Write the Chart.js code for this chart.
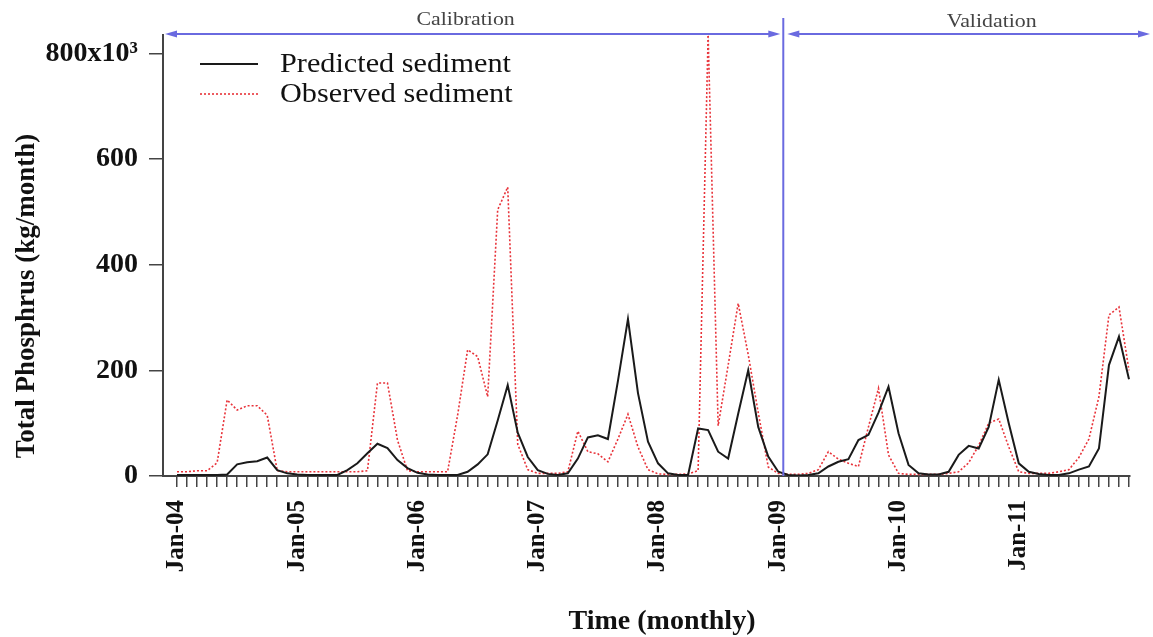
<!DOCTYPE html>
<html>
<head>
<meta charset="utf-8">
<script src="https://cdn.jsdelivr.net/npm/chart.js@4.4.0/dist/chart.umd.min.js"></script>
<style>
  html, body { margin: 0; padding: 0; background: #fff; }
  #wrap { width: 1153px; height: 637px; }
</style>
</head>
<body>
<div id="wrap"><canvas id="tp-chart"></canvas></div>
<script>
// monthly series, Jan-04 .. Dec-11 (x10^3 kg/month)
var years = ['04', '05', '06', '07', '08', '09', '10', '11'];
var monthNames = ['Jan', 'Feb', 'Mar', 'Apr', 'May', 'Jun', 'Jul', 'Aug', 'Sep', 'Oct', 'Nov', 'Dec'];
var tickLabels = ['Jan-04', 'Jan-05', 'Jan-06', 'Jan-07', 'Jan-08', 'Jan-09', 'Jan-10', 'Jan-11'];
var yTicks = [0, 200, 400, 600, 800];

var predicted = [
  2, 2, 2, 2, 2, 3, 22, 26, 28, 35,
  11, 5, 3, 2, 2, 2, 2, 11, 24, 43,
  61, 53, 30, 15, 6, 3, 2, 2, 2, 8,
  22, 41, 105, 172, 82, 36, 11, 4, 2, 5,
  33, 73, 77, 70, 180, 297, 157, 65, 24, 5,
  2, 2, 90, 87, 46, 33, 118, 200, 93, 37,
  8, 2, 1, 2, 5, 18, 27, 32, 68, 78,
  120, 169, 81, 21, 5, 3, 3, 8, 40, 57,
  52, 93, 182, 100, 24, 8, 4, 2, 2, 5,
  12, 18, 52, 210, 264, 183
];
var observed = [
  8, 8, 10, 10, 25, 144, 125, 133, 133, 115,
  10, 8, 8, 8, 8, 8, 8, 8, 8, 10,
  176, 176, 68, 10, 8, 8, 8, 8, 115, 239,
  226, 150, 504, 547, 60, 12, 5, 5, 5, 8,
  85, 46, 42, 27, 70, 117, 55, 12, 4, 3,
  3, 4, 10, 835, 95, 210, 327, 230, 120, 17,
  5, 3, 3, 5, 12, 46, 32, 24, 18, 93,
  166, 40, 5, 3, 3, 3, 3, 5, 8, 25,
  58, 100, 108, 55, 8, 5, 5, 5, 8, 12,
  35, 70, 150, 305, 320, 200
];

var months = [];
years.forEach(function (y) {
  monthNames.forEach(function (m) { months.push(m + '-' + y); });
});

var splitMonth = 60.5;   // calibration / validation boundary
var blue = '#6a6ae0';
var serif = "'Liberation Serif', 'Times New Roman', serif";

function toPoints(arr) {
  return arr.map(function (v, i) { return { x: i, y: v }; });
}

function arrow(ctx, x1, x2, y) {
  var hl = 12, hw = 3.5;
  ctx.beginPath();
  ctx.moveTo(x1 + 4, y);
  ctx.lineTo(x2 - 4, y);
  ctx.stroke();
  ctx.beginPath();
  ctx.moveTo(x1, y); ctx.lineTo(x1 + hl, y - hw); ctx.lineTo(x1 + hl, y + hw); ctx.closePath();
  ctx.fill();
  ctx.beginPath();
  ctx.moveTo(x2, y); ctx.lineTo(x2 - hl, y - hw); ctx.lineTo(x2 - hl, y + hw); ctx.closePath();
  ctx.fill();
}

function wideText(ctx, txt, x, y, sx) {
  ctx.save();
  ctx.translate(x, y);
  ctx.scale(sx, 1);
  ctx.fillText(txt, 0, 0);
  ctx.restore();
}

var overlay = {
  id: 'overlay',
  afterDraw: function (chart) {
    var ctx = chart.ctx, area = chart.chartArea, xs = chart.scales.x;
    var sx = xs.getPixelForValue(splitMonth);
    var ay = area.top - 1;
    ctx.save();

    // period markers
    ctx.strokeStyle = blue;
    ctx.fillStyle = blue;
    ctx.lineWidth = 2;
    ctx.beginPath();
    ctx.moveTo(sx, 18);
    ctx.lineTo(sx, area.bottom);
    ctx.stroke();
    arrow(ctx, area.left + 2, sx - 3, ay);
    arrow(ctx, sx + 4, chart.width - 3, ay);

    ctx.fillStyle = '#444';
    ctx.font = '19px ' + serif;
    ctx.textAlign = 'center';
    ctx.textBaseline = 'middle';
    wideText(ctx, 'Calibration', xs.getPixelForValue(28.8), 20, 1.15);
    wideText(ctx, 'Validation', xs.getPixelForValue(81.3), 22, 1.15);

    // legend
    ctx.lineWidth = 2;
    ctx.strokeStyle = '#1a1a1a';
    ctx.beginPath(); ctx.moveTo(200, 64); ctx.lineTo(258, 64); ctx.stroke();
    ctx.strokeStyle = '#e8333a';
    ctx.lineWidth = 1.6;
    ctx.setLineDash([2, 2]);
    ctx.beginPath(); ctx.moveTo(200, 94); ctx.lineTo(258, 94); ctx.stroke();
    ctx.setLineDash([]);
    ctx.fillStyle = '#111';
    ctx.font = '27px ' + serif;
    ctx.textAlign = 'left';
    wideText(ctx, 'Predicted sediment', 280, 65, 1.12);
    wideText(ctx, 'Observed sediment', 280, 95, 1.12);

    // axis titles
    ctx.font = 'bold 28px ' + serif;
    ctx.textAlign = 'center';
    ctx.fillText('Time (monthly)', 662, 622);
    ctx.save();
    ctx.translate(27, 296);
    ctx.rotate(-Math.PI / 2);
    ctx.font = 'bold 27px ' + serif;
    ctx.fillText('Total Phosphrus (kg/month)', 0, 0);
    ctx.restore();

    ctx.restore();
  }
};

var ctx = document.getElementById('tp-chart').getContext('2d');
var myChart = new Chart(ctx, {
  type: 'line',
  data: {
    labels: months,
    datasets: [{
      label: 'Predicted sediment',
      data: toPoints(predicted),
      borderColor: '#1a1a1a',
      borderWidth: 2,
      pointRadius: 0,
      tension: 0,
      fill: false
    }, {
      label: 'Observed sediment',
      data: toPoints(observed),
      borderColor: '#e8333a',
      borderWidth: 1.6,
      borderDash: [2, 2],
      pointRadius: 0,
      tension: 0,
      fill: false
    }]
  },
  options: {
    responsive: true,
    maintainAspectRatio: false,
    animation: false,
    devicePixelRatio: 1,
    layout: { padding: { left: 0, right: 23, top: 35, bottom: 0 } },
    scales: {
      x: {
        type: 'linear',
        min: -1.4,
        max: 95.1,
        afterFit: function (s) {
          s.height = 161;
          s.paddingLeft = 0;
          s.paddingRight = 0;
        },
        afterBuildTicks: function (s) {
          s.ticks = months.map(function (m, i) { return { value: i }; });
        },
        grid: { drawOnChartArea: false, drawTicks: true, tickLength: 11, color: '#444', lineWidth: 1.5 },
        border: { display: true, color: '#444', width: 2 },
        ticks: {
          autoSkip: false,
          maxRotation: 90,
          minRotation: 90,
          padding: 13,
          color: '#111',
          font: { family: serif, size: 25, weight: 'bold' },
          callback: function (v) { return v % 12 === 0 ? tickLabels[v / 12] : ''; }
        }
      },
      y: {
        min: 0,
        max: 835,
        afterFit: function (s) { s.width = 163; },
        afterBuildTicks: function (s) {
          s.ticks = yTicks.map(function (v) { return { value: v }; });
        },
        grid: { drawOnChartArea: false, drawTicks: true, tickLength: 14, color: '#444', lineWidth: 1.5 },
        border: { display: true, color: '#444', width: 2 },
        ticks: {
          padding: 11,
          color: '#111',
          font: { family: serif, size: 28, weight: 'bold' },
          callback: function (v) { return v === 800 ? '800x10\u00B3' : v; }
        }
      }
    },
    plugins: {
      legend: { display: false },
      tooltip: { enabled: false }
    }
  },
  plugins: [overlay]
});
</script>
</body>
</html>
